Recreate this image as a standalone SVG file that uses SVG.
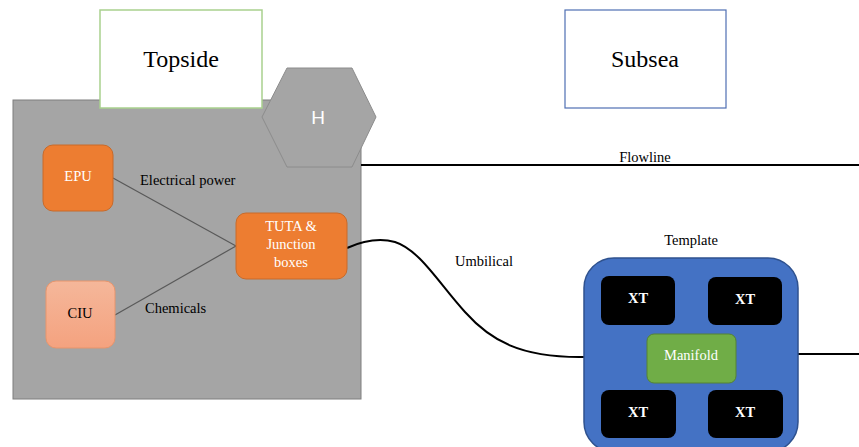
<svg xmlns="http://www.w3.org/2000/svg" width="859" height="447" viewBox="0 0 859 447" font-family="'Liberation Serif', 'Times New Roman', serif">
  <defs>
    <linearGradient id="ciuFill" x1="0" y1="0" x2="0" y2="1">
      <stop offset="0" stop-color="#f5b79a"/>
      <stop offset="1" stop-color="#f4a27f"/>
    </linearGradient>
  </defs>
  <style>
    text { font-family: "Liberation Serif", "Times New Roman", serif; }
    .title { font-size: 24px; fill: #000; text-anchor: middle; }
    .lbl { font-size: 14.5px; fill: #000; }
    .wlbl { font-size: 14.5px; fill: #fff; text-anchor: middle; }
    .xt { font-size: 14.5px; fill: #fff; font-weight: bold; text-anchor: middle; }
    .orange { fill: #ed7d31; stroke: #c86a2a; stroke-width: 1; }
    .xtbox { fill: #000; }
    .wire { fill: none; stroke: #000; stroke-width: 2; }
    .feed { fill: none; stroke: #595959; stroke-width: 1.2; }
    text.sans { font-family: "Liberation Sans", Arial, sans-serif; }
  </style>

  <!-- topside platform area -->
  <g id="platform">
    <rect x="13" y="100" width="348" height="299" fill="#a5a5a5" stroke="#7f7f7f" stroke-width="1"/>
  </g>

  <g id="topside-label">
    <rect x="100" y="10" width="162" height="98" fill="#fff" stroke="#a9d18e" stroke-width="1.5"/>
    <text class="title" x="181" y="67">Topside</text>
  </g>

  <g id="subsea-label">
    <rect x="565" y="10" width="161" height="98" fill="#fff" stroke="#4f6fb3" stroke-width="1.2"/>
    <text class="title" x="645" y="67">Subsea</text>
  </g>

  <g id="helideck">
    <polygon points="287,68 352,68 376,117 352,167 287,167 262,117" fill="#a5a5a5" stroke="#8c8c8c" stroke-width="1"/>
    <text class="sans" x="318" y="124" font-size="19" fill="#fff" text-anchor="middle">H</text>
  </g>

  <!-- connectors -->
  <g id="connectors">
    <line class="feed" x1="113" y1="178" x2="236" y2="246"/>
    <line class="feed" x1="115" y1="315" x2="236" y2="246"/>
    <line class="wire" x1="361" y1="165" x2="859" y2="165"/>
    <path class="wire" d="M347,248 C365,240 380,238 395,242 C420,250 440,285 465,312 C490,340 520,358 584,357"/>
    <line class="wire" x1="798" y1="354" x2="859" y2="354"/>
    <text class="lbl" x="140" y="185">Electrical power</text>
    <text class="lbl" x="145" y="313">Chemicals</text>
    <text class="lbl" x="645" y="162" text-anchor="middle">Flowline</text>
    <text class="lbl" x="455" y="266">Umbilical</text>
  </g>

  <g id="epu">
    <rect class="orange" x="43" y="145" width="70" height="66" rx="10"/>
    <text class="wlbl" x="78" y="181">EPU</text>
  </g>

  <g id="ciu">
    <rect x="46" y="281" width="69" height="67" rx="10" fill="url(#ciuFill)" stroke="#e8956c" stroke-width="1"/>
    <text class="lbl" x="80" y="318" text-anchor="middle">CIU</text>
  </g>

  <g id="tuta">
    <rect class="orange" x="236" y="213" width="111" height="66" rx="10"/>
    <text class="wlbl" x="291" y="231">TUTA &amp;</text>
    <text class="wlbl" x="291" y="249">Junction</text>
    <text class="wlbl" x="291" y="267">boxes</text>
  </g>

  <g id="template">
    <text class="lbl" x="691" y="245" text-anchor="middle">Template</text>
    <rect x="584" y="258" width="214" height="194" rx="30" fill="#4472c4" stroke="#2f528f" stroke-width="1.5"/>
  </g>

  <g id="xt-1">
    <rect class="xtbox" x="601" y="276" width="74" height="49" rx="8"/>
    <text class="xt" x="638" y="303">XT</text>
  </g>
  <g id="xt-2">
    <rect class="xtbox" x="708" y="277" width="74" height="48" rx="8"/>
    <text class="xt" x="745" y="304">XT</text>
  </g>
  <g id="xt-3">
    <rect class="xtbox" x="601" y="390" width="75" height="48" rx="8"/>
    <text class="xt" x="638" y="417">XT</text>
  </g>
  <g id="xt-4">
    <rect class="xtbox" x="708" y="390" width="75" height="48" rx="8"/>
    <text class="xt" x="745" y="417">XT</text>
  </g>

  <g id="manifold">
    <rect x="647" y="334" width="89" height="49" rx="7" fill="#70ad47" stroke="#548235" stroke-width="1"/>
    <text class="wlbl" x="691" y="360">Manifold</text>
  </g>
</svg>
